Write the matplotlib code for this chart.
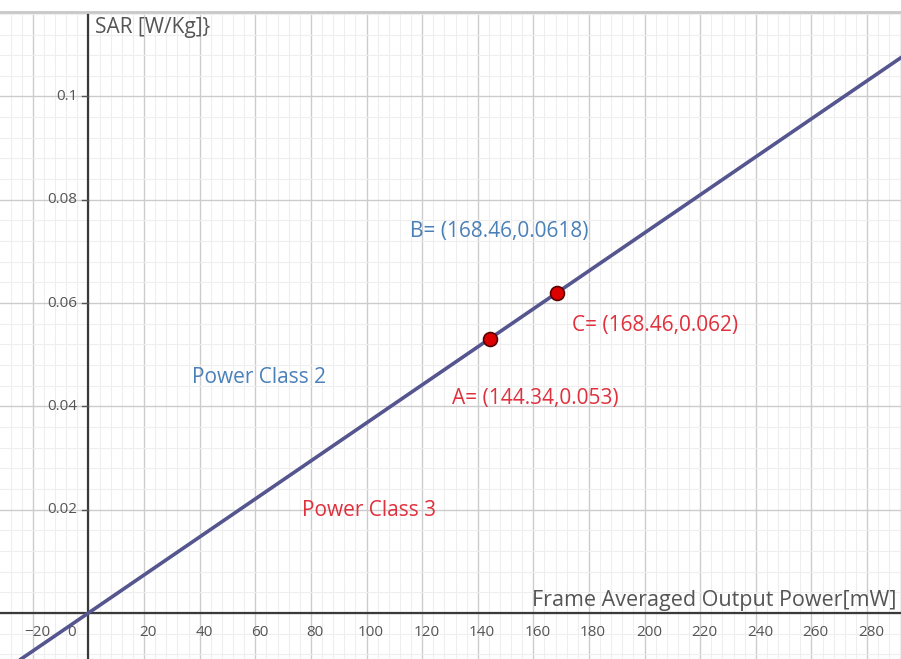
import matplotlib
matplotlib.use("Agg")
import matplotlib.pyplot as plt
from matplotlib.ticker import MultipleLocator
import matplotlib.transforms as mtransforms

plt.rcParams['font.family'] = ['Open Sans', 'DejaVu Sans']

# ---- data ----
line_x = [-40, 300]
line_y = [-0.01472, 0.1104]
points_x = [144.34, 168.46]
points_y = [0.053, 0.062]
x_ticks = [-20, 20, 40, 60, 80, 100, 120, 140, 160, 180, 200, 220, 240, 260, 280]
x_tick_labels = ["\u221220", "20", "40", "60", "80", "100", "120", "140", "160",
                 "180", "200", "220", "240", "260", "280"]
y_ticks = [0.02, 0.04, 0.06, 0.08, 0.1]
y_tick_labels = ["0.02", "0.04", "0.06", "0.08", "0.1"]

blue_labels = [("B= (168.46,0.0618)", 115.6, 0.0738),
               ("Power Class 2", 37.2, 0.0455)]
red_labels = [("C= (168.46,0.062)", 173.9, 0.0556),
              ("A= (144.34,0.053)", 130.8, 0.0416),
              ("Power Class 3", 76.8, 0.0199)]

W, H = 901, 659
fig = plt.figure(figsize=(W / 100, H / 100), dpi=100)
top_px = 12
ax = fig.add_axes([0, 0, 1, (H - top_px) / H])
ax.set_xlim(-31.8, 292.2)
ax.set_ylim(-0.00891, 0.11636)

# grid
ax.xaxis.set_major_locator(MultipleLocator(20))
ax.xaxis.set_minor_locator(MultipleLocator(4))
ax.yaxis.set_major_locator(MultipleLocator(0.02))
ax.yaxis.set_minor_locator(MultipleLocator(0.004))
ax.grid(which='major', color='#cccccc', lw=1.0, zorder=0)
ax.grid(which='minor', color='#eeeeee', lw=0.8, zorder=0)
ax.set_axisbelow(True)

# axes through origin
for s in ['right', 'bottom', 'left']:
    ax.spines[s].set_visible(False)
ax.spines['top'].set_color('#c8c8c8')
ax.spines['top'].set_linewidth(2)
ax.axhline(0, color='#3a3a3a', lw=1.6, zorder=2)
ax.axvline(0, color='#3a3a3a', lw=1.6, zorder=2)
ax.tick_params(which='both', length=0, labelbottom=False, labelleft=False)

tick_color = '#555555'
# tick labels
offx = mtransforms.offset_copy(ax.transData, fig=fig, x=3, y=-14, units='points')
for v, lab in zip(x_ticks, x_tick_labels):
    ax.text(v, 0, lab, transform=offx, ha='center', va='center',
            fontsize=11, color=tick_color)
offz = mtransforms.offset_copy(ax.transData, fig=fig, x=-12, y=-14, units='points')
ax.text(0, 0, "0", transform=offz, ha='center', va='center', fontsize=11, color=tick_color)
offy = mtransforms.offset_copy(ax.transData, fig=fig, x=-8, y=0, units='points')
for v, lab in zip(y_ticks, y_tick_labels):
    ax.text(0, v, lab, transform=offy, ha='right', va='center',
            fontsize=11, color=tick_color)
    ax.plot([-2.2, 0], [v, v], color=tick_color, lw=1, zorder=2)

# axis labels
ax.text(2.3, 0.1133, "SAR [W/Kg]}", fontsize=15, color='#555555', ha='left', va='center')
ax.text(290.5, 0.0025, "Frame Averaged Output Power[mW]", fontsize=15.5,
        color='#555555', ha='right', va='center')

# line and points
ax.plot(line_x, line_y, color='#55558f', lw=2.6, zorder=3, solid_capstyle='butt')
ax.plot(points_x, points_y, 'o', color='#dd0000', markersize=10,
        markeredgecolor='#5a0000', markeredgewidth=1.2, zorder=4)

for t, x, y in blue_labels:
    ax.text(x, y, t, fontsize=15, color='#4a80b8', ha='left', va='center')
for t, x, y in red_labels:
    ax.text(x, y, t, fontsize=15, color='#e0303c', ha='left', va='center')

fig.savefig("out.png", dpi=100, facecolor='white')
